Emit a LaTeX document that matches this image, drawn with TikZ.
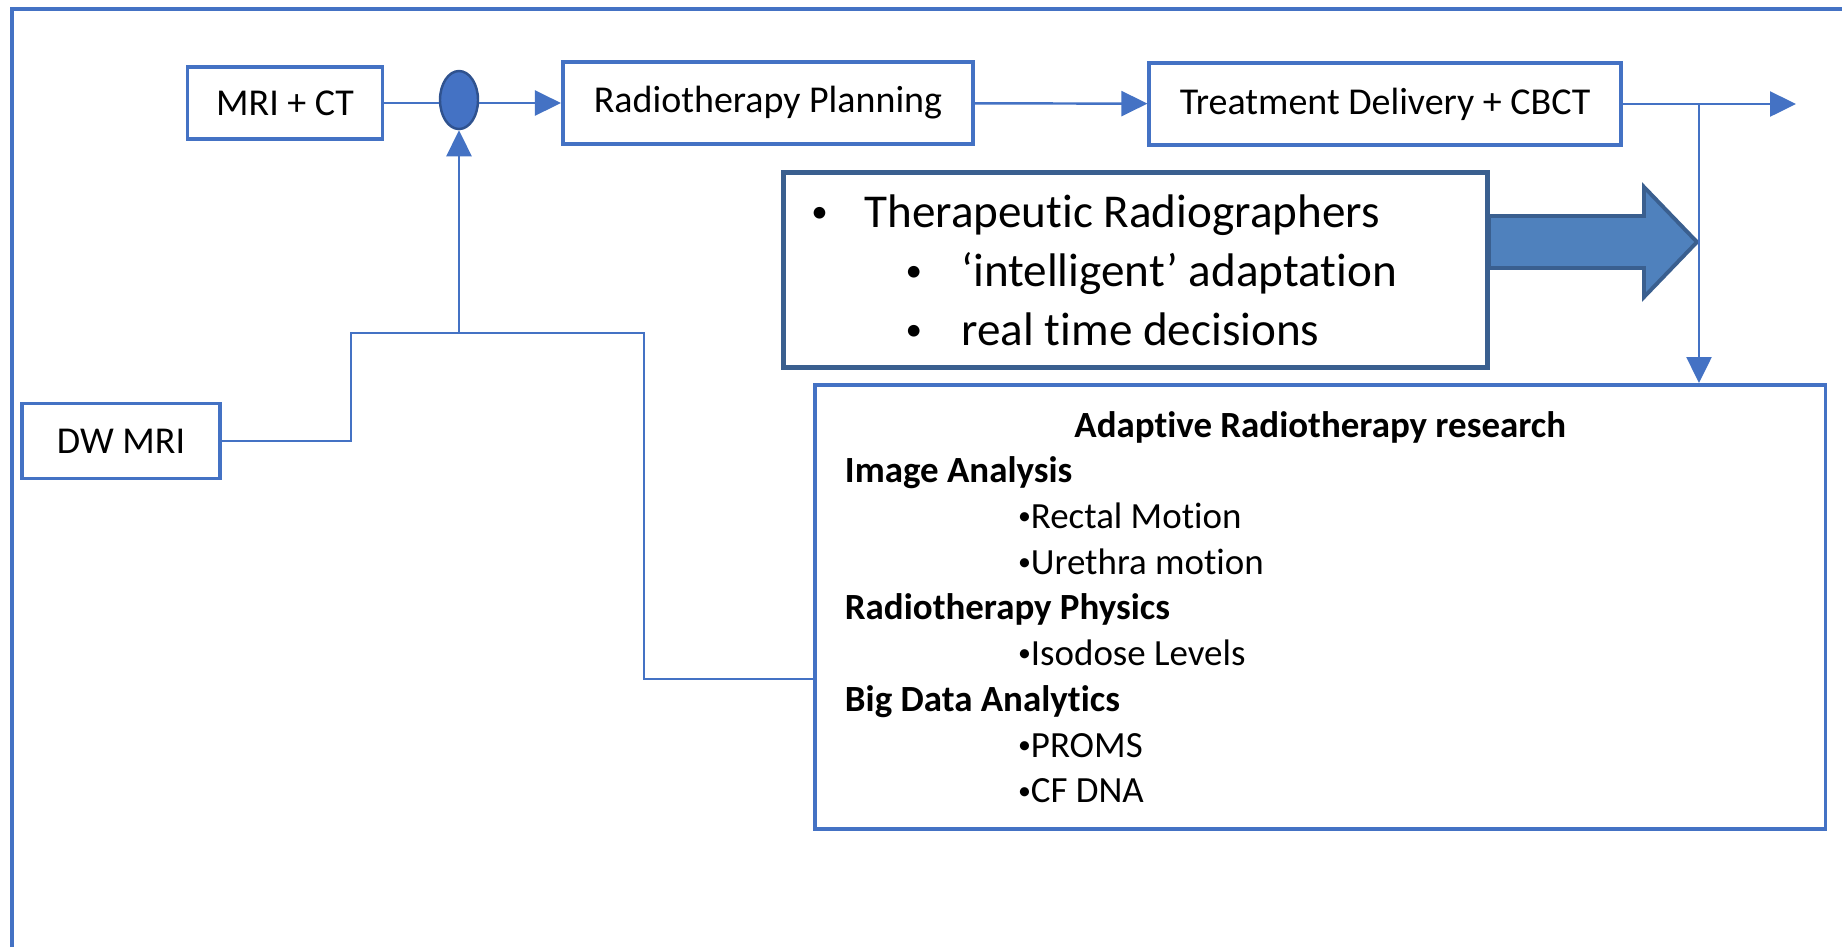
\documentclass[tikz,border=0pt]{standalone}
\usepackage{fontspec}
\setmainfont{Carlito}
\usetikzlibrary{arrows.meta,shapes.geometric}
\definecolor{boxblue}{HTML}{4472C4}
\definecolor{darkblue}{HTML}{3A5F8F}
\definecolor{arrowblue}{HTML}{4F81BD}
\definecolor{ellblue}{HTML}{2F528F}
\newcommand{\smalldot}{\raisebox{0.1em}{\scalebox{0.7}{•}}}
% plain t, keeps Carlito from joining "ti"
\newcommand{\nt}{t\kern0pt}
% font spaces again inside align=left nodes
\newcommand{\fontspaces}{\spaceskip=0pt\xspaceskip=0pt\relax}

\begin{document}
\begin{tikzpicture}[x=0.01cm, y=-0.01cm,
  box/.style={draw=boxblue, line width=1.1pt, fill=white, inner sep=0pt, font=\fontsize{10.8}{13}\selectfont},
  wire/.style={draw=boxblue, line width=0.7pt},
  flow/.style={wire, -{Triangle[length=0.26cm, width=0.25cm]}}]
  \useasboundingbox[fill=white] (0,0) rectangle (1842,947);
  % outer frame, only top and left edge in view
  \draw[boxblue, line width=1.1pt] (12,947) -- (12,9) -- (1842,9);
  % --- top row ---
  \node[box, minimum width=1.95cm, minimum height=0.72cm] (mrict) at (285,103) {MRI + CT};
  \node[ellipse, draw=ellblue, fill=boxblue, line width=0.7pt, inner sep=0pt,
        minimum width=0.38cm, minimum height=0.58cm] (join) at (459,100) {};
  \node[box, minimum width=4.10cm, minimum height=0.82cm] (plan) at (768,103) {Radiotherapy Planning};
  \node[box, minimum width=4.71cm, minimum height=0.82cm] (treat) at (1385,104) {Treatment Delivery + CBCT};
  \coordinate (split) at (1699,104);
  \coordinate (out) at (1796,104);
  % --- left input ---
  \node[box, minimum width=1.98cm, minimum height=0.75cm] (dwmri) at (121,441) {DW MRI};
  \coordinate (busL) at (351,333);
  \coordinate (busR) at (644,333);
  % --- radiographers ---
  \node[draw=darkblue, line width=1.4pt, fill=white, anchor=north west, align=left,
        text width=6.48cm, inner xsep=0.28cm, inner ysep=0pt, minimum height=1.95cm,
        font=\fontsize{13.4}{16.8}\selectfont] (thera) at (781,170)
    {\fontspaces\makebox[0.53cm][l]{\smalldot}Therapeu\nt ic Radiographers\\
     \hspace*{0.94cm}\makebox[0.56cm][l]{\smalldot}‘intelligent’ adapta\nt ion\\
     \hspace*{0.94cm}\makebox[0.56cm][l]{\smalldot}real \nt ime decisions};
  \draw[darkblue, fill=arrowblue, line width=1.1pt]
    (1489,216) -- (1644,216) -- (1644,187) -- (1697,242) -- (1644,297) -- (1644,268) -- (1489,268) -- cycle;
  % --- research box ---
  \node[box, anchor=north west, align=left, text width=9.5cm, inner xsep=0.3cm,
        minimum height=4.44cm, font=\fontsize{10.5}{13}\selectfont] (adapt) at (813,383)
    {\fontspaces\makebox[9.5cm][c]{\bfseries Adap\nt ive Radiotherapy research}\\
     \textbf{Image Analysis}\\
     \hspace*{1.73cm}\smalldot Rectal Mo\nt ion\\
     \hspace*{1.73cm}\smalldot Urethra mo\nt ion\\
     \textbf{Radiotherapy Physics}\\
     \hspace*{1.73cm}\smalldot Isodose Levels\\
     \textbf{Big Data Analy\nt ics}\\
     \hspace*{1.73cm}\smalldot PROMS\\
     \hspace*{1.73cm}\smalldot CF DNA};
  % --- connectors ---
  \draw[wire] (mrict.east) -- (mrict.east -| join.west);
  \draw[flow] (join.east |- plan.west) -- (plan.west);
  \draw[flow] (plan) -- (treat);
  \draw[flow] (treat.east) -- (out);
  \draw[flow] (split) -- (split |- adapt.north);
  \draw[wire] (dwmri.east) -| (busL) -- (busR) |- ([yshift=-0.72cm]adapt.west);
  \draw[flow] (join |- busL) -- (join.south);
\end{tikzpicture}
\end{document}
